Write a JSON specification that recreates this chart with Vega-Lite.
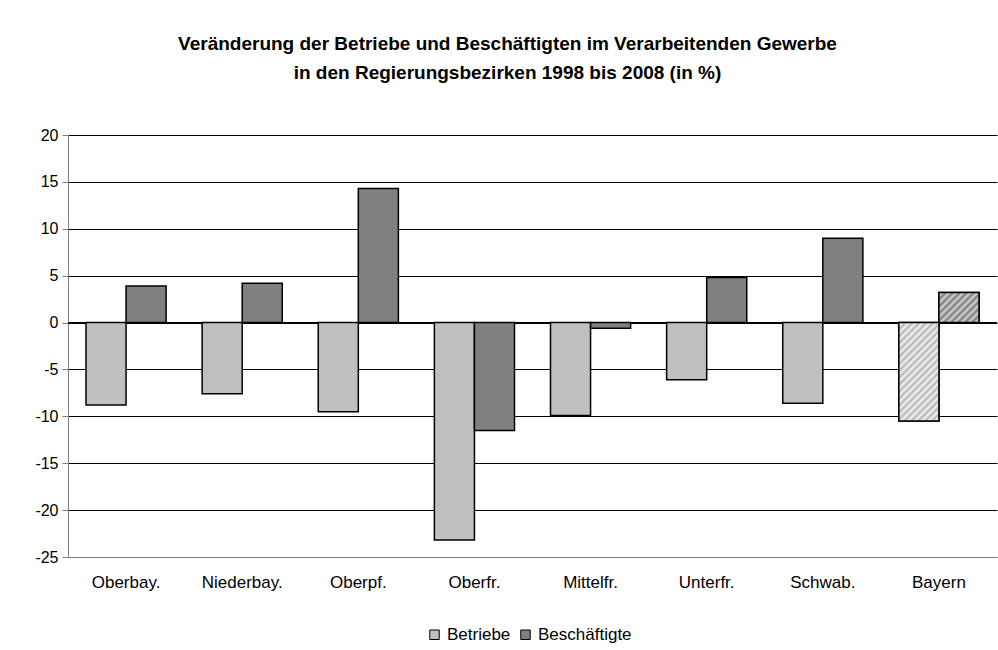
{
  "$schema": "https://vega.github.io/schema/vega-lite/v6.json",
  "width": 929,
  "height": 422,
  "autosize": {"type": "none"},
  "padding": {"left": 68, "top": 135, "right": 1, "bottom": 93},
  "background": "white",
  "config": {
    "view": {"stroke": null},
    "font": "Liberation Sans"
  },
  "title": {
    "text": ["Veränderung der Betriebe und Beschäftigten im Verarbeitenden Gewerbe", "in den Regierungsbezirken 1998 bis 2008 (in %)"],
    "font": "Liberation Sans",
    "fontSize": 19,
    "fontWeight": "bold",
    "color": "#000",
    "anchor": "middle",
    "dx": -25,
    "offset": 44,
    "lineHeight": 29
  },
  "data": {
    "values": [
      {"region": "Oberbay.", "series": "Betriebe", "value": -8.8},
      {"region": "Oberbay.", "series": "Beschäftigte", "value": 3.9},
      {"region": "Niederbay.", "series": "Betriebe", "value": -7.6},
      {"region": "Niederbay.", "series": "Beschäftigte", "value": 4.2},
      {"region": "Oberpf.", "series": "Betriebe", "value": -9.5},
      {"region": "Oberpf.", "series": "Beschäftigte", "value": 14.3},
      {"region": "Oberfr.", "series": "Betriebe", "value": -23.2},
      {"region": "Oberfr.", "series": "Beschäftigte", "value": -11.5},
      {"region": "Mittelfr.", "series": "Betriebe", "value": -9.9},
      {"region": "Mittelfr.", "series": "Beschäftigte", "value": -0.6},
      {"region": "Unterfr.", "series": "Betriebe", "value": -6.1},
      {"region": "Unterfr.", "series": "Beschäftigte", "value": 4.8},
      {"region": "Schwab.", "series": "Betriebe", "value": -8.6},
      {"region": "Schwab.", "series": "Beschäftigte", "value": 9.0},
      {"region": "Bayern", "series": "Betriebe", "value": -10.5},
      {"region": "Bayern", "series": "Beschäftigte", "value": 3.2}
    ]
  },
  "layer": [
    {
      "mark": {"type": "rule", "color": "#000", "strokeWidth": 1},
      "encoding": {
        "y": {"datum": 0, "type": "quantitative", "scale": {"domain": [-25, 20]}}
      }
    },
    {
      "mark": {"type": "bar", "stroke": "#000", "strokeWidth": 1.5},
      "encoding": {
        "x": {
          "field": "region",
          "type": "nominal",
          "sort": ["Oberbay.", "Niederbay.", "Oberpf.", "Oberfr.", "Mittelfr.", "Unterfr.", "Schwab.", "Bayern"],
          "scale": {"paddingInner": 0.31, "paddingOuter": 0.155},
          "axis": {
            "title": null,
            "labelAngle": 0,
            "labelFontSize": 17,
            "labelColor": "#000",
            "labelPadding": 17,
            "ticks": false,
            "domainColor": "#808080",
            "domainWidth": 1
          }
        },
        "xOffset": {
          "field": "series",
          "type": "nominal",
          "sort": ["Betriebe", "Beschäftigte"],
          "scale": {"domain": ["Betriebe", "Beschäftigte"], "paddingInner": 0, "paddingOuter": 0}
        },
        "y": {
          "field": "value",
          "type": "quantitative",
          "scale": {"domain": [-25, 20], "nice": false},
          "axis": {
            "title": null,
            "values": [-25, -20, -15, -10, -5, 0, 5, 10, 15, 20],
            "labelExpr": "datum.value < 0 ? '-' + abs(datum.value) : '' + datum.value",
            "labelFontSize": 16,
            "labelColor": "#000",
            "labelPadding": 4,
            "tickColor": "#808080",
            "tickSize": 6,
            "domainColor": "#808080",
            "grid": true,
            "gridColor": {"condition": {"test": "datum.value === -25", "value": "#808080"}, "value": "#000"},
            "gridWidth": 1
          }
        },
        "color": {
          "field": "series",
          "type": "nominal",
          "sort": ["Betriebe", "Beschäftigte"],
          "scale": {"domain": ["Betriebe", "Beschäftigte"], "range": ["#c0c0c0", "#808080"]},
          "legend": {
            "title": null,
            "orient": "none",
            "legendX": 358,
            "legendY": 491,
            "direction": "horizontal",
            "symbolType": "square",
            "symbolSize": 90,
            "symbolStrokeColor": "#000",
            "symbolStrokeWidth": 1,
            "labelFontSize": 17,
            "labelColor": "#000",
            "labelOffset": 4,
            "columnPadding": 6
          }
        }
      }
    },
    {
      "transform": [{"filter": "datum.region === 'Bayern' && datum.series === 'Betriebe'"}],
      "mark": {
        "type": "bar",
        "stroke": "#000",
        "strokeWidth": 1.5,
        "fill": {
          "gradient": "linear",
          "x1": 0, "y1": 0, "x2": 0.491, "y2": 1.208,
          "stops": [
            {"offset": 0, "color": "#b4b4b4"}, {"offset": 0.025, "color": "#f4f4f4"},
            {"offset": 0.05, "color": "#b4b4b4"}, {"offset": 0.075, "color": "#f4f4f4"},
            {"offset": 0.1, "color": "#b4b4b4"}, {"offset": 0.125, "color": "#f4f4f4"},
            {"offset": 0.15, "color": "#b4b4b4"}, {"offset": 0.175, "color": "#f4f4f4"},
            {"offset": 0.2, "color": "#b4b4b4"}, {"offset": 0.225, "color": "#f4f4f4"},
            {"offset": 0.25, "color": "#b4b4b4"}, {"offset": 0.275, "color": "#f4f4f4"},
            {"offset": 0.3, "color": "#b4b4b4"}, {"offset": 0.325, "color": "#f4f4f4"},
            {"offset": 0.35, "color": "#b4b4b4"}, {"offset": 0.375, "color": "#f4f4f4"},
            {"offset": 0.4, "color": "#b4b4b4"}, {"offset": 0.425, "color": "#f4f4f4"},
            {"offset": 0.45, "color": "#b4b4b4"}, {"offset": 0.475, "color": "#f4f4f4"},
            {"offset": 0.5, "color": "#b4b4b4"}, {"offset": 0.525, "color": "#f4f4f4"},
            {"offset": 0.55, "color": "#b4b4b4"}, {"offset": 0.575, "color": "#f4f4f4"},
            {"offset": 0.6, "color": "#b4b4b4"}, {"offset": 0.625, "color": "#f4f4f4"},
            {"offset": 0.65, "color": "#b4b4b4"}, {"offset": 0.675, "color": "#f4f4f4"},
            {"offset": 0.7, "color": "#b4b4b4"}, {"offset": 0.725, "color": "#f4f4f4"},
            {"offset": 0.75, "color": "#b4b4b4"}, {"offset": 0.775, "color": "#f4f4f4"},
            {"offset": 0.8, "color": "#b4b4b4"}, {"offset": 0.825, "color": "#f4f4f4"},
            {"offset": 0.85, "color": "#b4b4b4"}, {"offset": 0.875, "color": "#f4f4f4"},
            {"offset": 0.9, "color": "#b4b4b4"}, {"offset": 0.925, "color": "#f4f4f4"},
            {"offset": 0.95, "color": "#b4b4b4"}, {"offset": 0.975, "color": "#f4f4f4"},
            {"offset": 1, "color": "#b4b4b4"}
          ]
        }
      },
      "encoding": {
        "x": {"field": "region", "type": "nominal", "sort": ["Oberbay.", "Niederbay.", "Oberpf.", "Oberfr.", "Mittelfr.", "Unterfr.", "Schwab.", "Bayern"]},
        "xOffset": {"field": "series", "type": "nominal", "sort": ["Betriebe", "Beschäftigte"]},
        "y": {"field": "value", "type": "quantitative"}
      }
    },
    {
      "transform": [{"filter": "datum.region === 'Bayern' && datum.series === 'Beschäftigte'"}],
      "mark": {
        "type": "bar",
        "stroke": "#000",
        "strokeWidth": 1.5,
        "fill": {
          "gradient": "linear",
          "x1": 0, "y1": 0, "x2": 1.12, "y2": 0.84,
          "stops": [
            {"offset": 0, "color": "#7a7a7a"}, {"offset": 0.05, "color": "#d4d4d4"},
            {"offset": 0.1, "color": "#7a7a7a"}, {"offset": 0.15, "color": "#d4d4d4"},
            {"offset": 0.2, "color": "#7a7a7a"}, {"offset": 0.25, "color": "#d4d4d4"},
            {"offset": 0.3, "color": "#7a7a7a"}, {"offset": 0.35, "color": "#d4d4d4"},
            {"offset": 0.4, "color": "#7a7a7a"}, {"offset": 0.45, "color": "#d4d4d4"},
            {"offset": 0.5, "color": "#7a7a7a"}, {"offset": 0.55, "color": "#d4d4d4"},
            {"offset": 0.6, "color": "#7a7a7a"}, {"offset": 0.65, "color": "#d4d4d4"},
            {"offset": 0.7, "color": "#7a7a7a"}, {"offset": 0.75, "color": "#d4d4d4"},
            {"offset": 0.8, "color": "#7a7a7a"}, {"offset": 0.85, "color": "#d4d4d4"},
            {"offset": 0.9, "color": "#7a7a7a"}, {"offset": 0.95, "color": "#d4d4d4"},
            {"offset": 1, "color": "#7a7a7a"}
          ]
        }
      },
      "encoding": {
        "x": {"field": "region", "type": "nominal", "sort": ["Oberbay.", "Niederbay.", "Oberpf.", "Oberfr.", "Mittelfr.", "Unterfr.", "Schwab.", "Bayern"]},
        "xOffset": {"field": "series", "type": "nominal", "sort": ["Betriebe", "Beschäftigte"]},
        "y": {"field": "value", "type": "quantitative"}
      }
    }
  ]
}
